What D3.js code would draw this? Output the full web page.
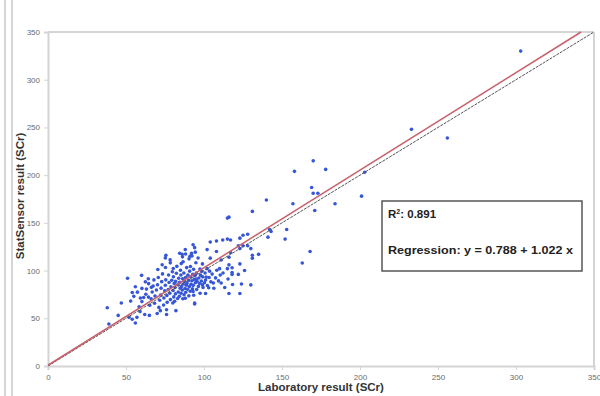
<!DOCTYPE html>
<meta charset="utf-8">
<head>
  <title>StatSensor vs Laboratory SCr</title>
  <style>
    body { margin: 0; background: #fff; }
    .tick text { fill: #6b6b6b; font-family: "Liberation Sans", Arial, sans-serif; font-size: 8px; }
    .tick line { stroke: #d4d4d4; }
    .domain { stroke: #d4d4d4; stroke-width: 2px; }
  </style>
</head>
<script src="https://d3js.org/d3.v7.min.js"></script>
<div id="chart"></div>
<script>

// axis ticks
var xTicks = [0, 50, 100, 150, 200, 250, 300, 350];
var yTicks = [0, 50, 100, 150, 200, 250, 300, 350];

// regression stats shown in the box
var rSquared = "0.891";
var intercept = 0.788;
var slope = 1.022;

// [laboratory result, statsensor result]
var outliers = [
  [303,330],[233,248],[256,239],[170,215],[158,204],[178,206],[203,203],[169,187],
  [170,181],[173,181],[201,178],[140,174],[157,170],[184,170],[171,163],[131,162],
  [115,155],[116,156],[142,143],[143,141],[153,143],[141,135],[152,133],[168,120],[163,108]
];
var midPoints = [
  [125,137],[128,138],[123,134],[115,133],[117,132],[112,132],[108,131],[104,130],
  [122,126],[125,126],[128,126],[130,123],[123,123],[117,119],[108,120],[102,122],
  [93,127],[94,124],[88,122],[86,117],[92,118],[91,115],[131,116],[131,113],[135,117],
  [116,114],[111,111],[104,113],[99,107],[102,102],[110,102],[116,106],[115,102],
  [118,103],[123,107],[126,100],[122,96],[118,98],[118,96],[130,85],[124,86],[111,87],
  [106,87],[101,90],[99,85],[103,82],[101,76],[116,76],[123,76],[94,65],[88,71],[95,91]
];
var lowPoints = [
  [38,61],[39,44],[45,53],[47,66],[51,92],[53,68],[54,77],[55,73],[56,83],[52,51],
  [54,49],[56,45],[57,51],[59,57],[60,95],[62,54],[65,53],[70,55],[76,59],[80,66],
  [94,66],[93,78],[76,54],[72,58],[82,58]
];
var corePoints = [
  [58.4,62.1],[60.2,67.5],[61.3,71.8],[62.7,75.2],[63.1,80.6],[64.5,86.3],[65.2,63.7],[66.1,70.4],
  [66.8,77.5],[67.4,83.9],[67.9,90.2],[68.3,65.8],[68.6,73.4],[69.5,79.7],[70.2,85.1],[70.7,92.8],
  [71.1,61.4],[71.6,68.9],[72.2,74.3],[72.5,81.6],[72.9,88.4],[73.4,96.5],[74.1,63.9],[74.3,71.2],
  [74.8,78.7],[75.2,84.6],[75.5,90.3],[75.3,103.2],[76.4,66.7],[76.2,73.8],[77.1,80.2],[77.6,87.5],
  [77.3,95.4],[78.5,69.6],[78.1,76.3],[78.8,83.1],[78.4,108.1],[79.3,89.8],[79.7,98.7],[80.6,72.4],
  [80.2,79.1],[80.9,86.4],[80.4,93.6],[81.2,67.9],[81.7,75.6],[81.4,82.2],[81.8,88.7],[82.3,97.2],
  [82.6,104.4],[83.1,70.8],[83.5,77.6],[83.3,85.5],[83.8,91.9],[84.2,73.1],[84.7,81.4],[84.4,87.6],
  [84.9,100.3],[85.3,76.2],[85.6,83.3],[85.2,95.4],[86.4,70.5],[86.1,79.6],[86.7,85.9],[86.3,91.3],
  [86.6,109.2],[87.2,74.6],[87.8,81.2],[87.4,88.8],[87.1,97.5],[88.3,77.3],[88.6,84.7],[88.2,92.6],
  [88.9,103.1],[89.4,80.4],[89.1,86.6],[89.7,95.2],[90.3,73.5],[90.6,83.2],[90.1,89.7],[90.8,99.4],
  [90.4,112.3],[91.2,78.4],[91.7,85.7],[91.5,93.2],[91.3,104.3],[92.6,80.8],[92.2,89.4],[92.8,96.1],
  [93.4,74.2],[93.1,84.5],[93.7,90.6],[93.3,101.4],[94.5,87.3],[94.2,94.7],[94.8,108.2],[95.3,80.1],
  [95.6,88.6],[95.1,97.3],[96.4,83.4],[96.7,92.2],[96.2,113.1],[97.5,76.3],[97.2,86.4],[97.8,95.2],
  [97.4,101.6],[98.3,89.1],[98.6,99.2],[99.4,82.3],[99.1,93.4],[100.3,87.2],[100.7,97.4],[101.4,93.1],
  [102.2,84.3],[103.3,92.7],[103.6,99.4],[104.4,88.2],[105.2,96.3],[106.3,81.4],[107.4,92.3],[108.2,100.4],
  [109.3,89.2],[110.4,95.3],[112.2,97.4],[113.3,82.3],[115.4,91.2],[118.3,85.4],[75.2,113.3],[75.6,116.1],
  [78.3,111.2],[84.4,118.2],[88.2,117.3],[92.3,115.2],[94.4,119.3],[86.2,114.4],[80.3,102.2],[85.4,107.3],
  [73.2,106.1],[70.4,101.2],[64.3,91.4],[60.2,81.3],[62.4,88.2],[57.3,77.4],[59.2,71.3],[64.4,72.2],[66.3,82.4]
];
var samples = outliers.concat(midPoints, lowPoints, corePoints);

var width = 600, height = 396;

var svg = d3.select("#chart")
  .append("svg")
    .attr("width", width)
    .attr("height", height);

// outer chart frame on the left edge
svg.append("line").attr("x1", 5).attr("x2", 5).attr("y1", 0).attr("y2", height)
  .attr("stroke", "#c8c8c8").attr("stroke-width", 1.5);
svg.append("line").attr("x1", 12).attr("x2", 12).attr("y1", 0).attr("y2", height)
  .attr("stroke", "#c8c8c8").attr("stroke-width", 1.5);

var x = d3.scaleLinear().domain([0, 350]).range([48, 594]);
var y = d3.scaleLinear().domain([0, 350]).range([366, 32]);

// top and right borders of the plot
svg.append("line").attr("x1", x(0)).attr("x2", x(350)).attr("y1", y(350)).attr("y2", y(350))
  .attr("stroke", "#d4d4d4").attr("stroke-width", 2);
svg.append("line").attr("x1", x(350)).attr("x2", x(350)).attr("y1", y(350)).attr("y2", y(0))
  .attr("stroke", "#d4d4d4").attr("stroke-width", 2);

svg.append("g")
    .attr("transform", "translate(0," + y(0) + ")")
    .call(d3.axisBottom(x).tickValues(xTicks).tickSize(4).tickPadding(4));

svg.append("g")
    .attr("transform", "translate(" + x(0) + ",0)")
    .call(d3.axisLeft(y).tickValues(yTicks).tickSize(4).tickPadding(4));

// points
svg.append("g").selectAll("circle")
  .data(samples)
  .enter().append("circle")
    .attr("cx", function(d) { return x(d[0]); })
    .attr("cy", function(d) { return y(d[1]); })
    .attr("r", 1.8)
    .attr("fill", "#3656d8");

// line of identity (grey, finely dotted)
svg.append("line")
  .attr("x1", x(0)).attr("y1", y(0))
  .attr("x2", x(350)).attr("y2", y(350))
  .attr("stroke", "#555").attr("stroke-width", 1)
  .attr("stroke-dasharray", "3,1");

// regression line, stops at top of plot
var xEnd = (350 - intercept) / slope;
svg.append("line")
  .attr("x1", x(0)).attr("y1", y(intercept))
  .attr("x2", x(xEnd)).attr("y2", y(350))
  .attr("stroke", "#c8606a").attr("stroke-width", 1.5);

// axis titles
svg.append("text")
  .attr("x", 321).attr("y", 391)
  .attr("text-anchor", "middle")
  .style("font-family", "Liberation Sans, Arial, sans-serif")
  .style("font-weight", "bold").style("font-size", "11.5px")
  .attr("fill", "#333")
  .text("Laboratory result (SCr)");

svg.append("text")
  .attr("transform", "translate(24,196) rotate(-90)")
  .attr("text-anchor", "middle")
  .style("font-family", "Liberation Sans, Arial, sans-serif")
  .style("font-weight", "bold").style("font-size", "11.5px")
  .attr("fill", "#333")
  .text("StatSensor result (SCr)");

// stats box
svg.append("rect")
  .attr("x", 382).attr("y", 201).attr("width", 200).attr("height", 70)
  .attr("fill", "#fff").attr("stroke", "#555").attr("stroke-width", 1.5);

var r2 = svg.append("text")
  .attr("x", 388).attr("y", 218)
  .style("font-family", "Liberation Sans, Arial, sans-serif")
  .style("font-weight", "bold").style("font-size", "11.5px")
  .attr("fill", "#222");
r2.append("tspan").text("R");
r2.append("tspan").attr("dy", -4).style("font-size", "7px").text("2");
r2.append("tspan").attr("dy", 4).text(": " + rSquared);

svg.append("text")
  .attr("x", 388).attr("y", 254)
  .attr("textLength", 185).attr("lengthAdjust", "spacingAndGlyphs")
  .style("font-family", "Liberation Sans, Arial, sans-serif")
  .style("font-weight", "bold").style("font-size", "11.5px")
  .attr("fill", "#222")
  .text("Regression: y = " + intercept + " + " + slope + " x");

</script>
